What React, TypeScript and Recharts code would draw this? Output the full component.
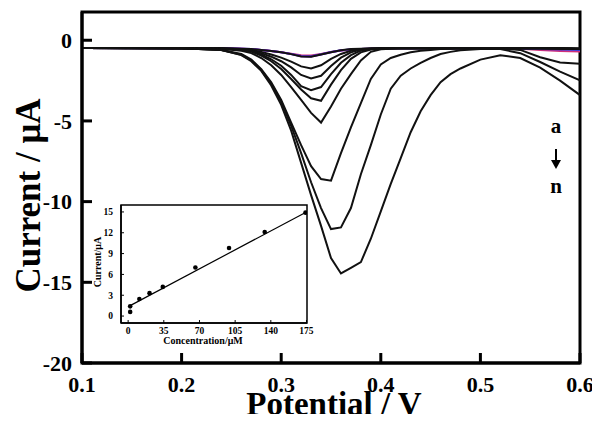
import React from 'react'
import {
  ComposedChart, Line, LineChart, ReferenceArea, Scatter, XAxis, YAxis,
} from 'recharts'

const serif = '"Liberation Serif", "Times New Roman", serif'

// potential (V) for every sampled point of the voltammograms
const potentials = [0.10, 0.20, 0.24, 0.26, 0.27, 0.28, 0.29, 0.30, 0.31, 0.32, 0.33, 0.34, 0.35, 0.36, 0.37, 0.38,
  0.39, 0.40, 0.41, 0.42, 0.43, 0.44, 0.45, 0.46, 0.47, 0.48, 0.50, 0.52, 0.54, 0.56, 0.58, 0.60]

const curveA = [-0.48, -0.5, -0.5, -0.52, -0.56, -0.61, -0.67, -0.75, -0.84, -0.93, -0.95, -0.85, -0.72, -0.63, -0.58, -0.54,
  -0.52, -0.5, -0.5, -0.5, -0.5, -0.5, -0.5, -0.5, -0.5, -0.5, -0.5, -0.5, -0.53, -0.6, -0.66, -0.7]
const curveB = [-0.48, -0.5, -0.5, -0.52, -0.55, -0.6, -0.66, -0.74, -0.85, -0.97, -0.99, -0.87, -0.73, -0.62, -0.57, -0.54,
  -0.52, -0.5, -0.5, -0.5, -0.5, -0.5, -0.5, -0.5, -0.5, -0.5, -0.5, -0.5, -0.52, -0.55, -0.58, -0.6]
const curveC = [-0.48, -0.5, -0.5, -0.52, -0.55, -0.6, -0.66, -0.75, -0.86, -0.99, -1.01, -0.88, -0.74, -0.63, -0.58, -0.55,
  -0.53, -0.51, -0.5, -0.5, -0.5, -0.5, -0.5, -0.5, -0.5, -0.5, -0.5, -0.5, -0.5, -0.52, -0.54, -0.55]
const curveD = [-0.48, -0.5, -0.5, -0.52, -0.55, -0.6, -0.66, -0.75, -0.86, -1.0, -1.02, -0.88, -0.74, -0.62, -0.55, -0.52,
  -0.5, -0.5, -0.5, -0.5, -0.5, -0.5, -0.5, -0.5, -0.5, -0.5, -0.5, -0.5, -0.5, -0.5, -0.51, -0.52]
const curveE = [-0.48, -0.5, -0.5, -0.55, -0.6, -0.72, -0.88, -1.08, -1.32, -1.62, -1.75, -1.55, -1.15, -0.85, -0.65, -0.55,
  -0.52, -0.5, -0.5, -0.5, -0.5, -0.5, -0.5, -0.5, -0.5, -0.5, -0.5, -0.5, -0.5, -0.5, -0.51, -0.52]
const curveF = [-0.48, -0.5, -0.51, -0.56, -0.63, -0.8, -1.02, -1.3, -1.68, -2.15, -2.37, -2.2, -1.6, -1.08, -0.75, -0.58,
  -0.52, -0.5, -0.5, -0.5, -0.5, -0.5, -0.5, -0.5, -0.5, -0.5, -0.5, -0.5, -0.5, -0.5, -0.5, -0.52]
const curveG = [-0.48, -0.5, -0.52, -0.58, -0.67, -0.88, -1.18, -1.58, -2.15, -2.85, -3.1, -2.9, -2.1, -1.4, -0.92, -0.64,
  -0.54, -0.51, -0.5, -0.5, -0.5, -0.5, -0.5, -0.5, -0.5, -0.5, -0.5, -0.5, -0.5, -0.5, -0.5, -0.52]
const curveH = [-0.48, -0.5, -0.52, -0.6, -0.7, -0.95, -1.3, -1.78, -2.4, -3.05, -3.6, -3.75, -2.75, -1.85, -1.15, -0.75,
  -0.58, -0.52, -0.5, -0.5, -0.5, -0.5, -0.5, -0.5, -0.5, -0.5, -0.5, -0.5, -0.5, -0.5, -0.5, -0.52]
const curveI = [-0.48, -0.5, -0.53, -0.65, -0.8, -1.1, -1.55, -2.15, -2.9, -3.7, -4.5, -5.1, -4.1, -3.0, -2.1, -1.25,
  -0.72, -0.56, -0.52, -0.5, -0.5, -0.5, -0.5, -0.5, -0.5, -0.5, -0.5, -0.5, -0.5, -0.5, -0.52, -0.55]
const curveJ = [-0.48, -0.5, -0.6, -0.85, -1.2, -1.8, -2.6, -3.7, -5.1, -6.5, -7.8, -8.6, -8.7, -7.0, -5.4, -3.9,
  -2.4, -1.5, -1.1, -0.9, -0.75, -0.65, -0.6, -0.55, -0.52, -0.5, -0.5, -0.5, -0.6, -1.05, -1.38, -1.45]
const curveK = [-0.48, -0.5, -0.6, -0.9, -1.25, -1.85, -2.7, -3.8, -5.3, -7.0, -8.8, -10.4, -11.7, -11.6, -10.4, -8.3,
  -6.5, -4.6, -3.0, -2.2, -1.75, -1.4, -1.1, -0.85, -0.72, -0.62, -0.55, -0.55, -0.8, -1.35, -1.95, -2.48]
const curveL = [-0.48, -0.5, -0.6, -0.92, -1.3, -1.9, -2.8, -4.0, -5.6, -7.6, -9.6, -11.5, -13.5, -14.45, -14.1, -13.75,
  -12.3, -10.6, -8.9, -7.3, -5.7, -4.4, -3.4, -2.6, -2.1, -1.75, -1.2, -0.93, -1.1, -1.7, -2.5, -3.4]

const curveKeys = ['a', 'b', 'c', 'd', 'e', 'f', 'g', 'h', 'i', 'j', 'k', 'l']
const curveValues = [curveA, curveB, curveC, curveD, curveE, curveF, curveG, curveH, curveI, curveJ, curveK, curveL]
const curveColors = ['#d0307a', '#3a3adb', '#8a2be2', '#111', '#111', '#111', '#111', '#111', '#111', '#111', '#111', '#111']

const xTicks = [0.1, 0.2, 0.3, 0.4, 0.5, 0.6]
const yTicks = [-20, -15, -10, -5, 0]

// inset: peak current vs concentration
const concentrations = [2, 2, 11, 21, 34, 66, 99, 134, 174]
const peakCurrents = [0.6, 1.4, 2.45, 3.3, 4.2, 7.0, 9.8, 12.1, 14.9]
const fitConcentrations = [2, 175]
const fitCurrents = [1.5, 15.0]
const insetXTicks = [0, 35, 70, 105, 140, 175]
const insetYTicks = [0, 3, 6, 9, 12, 15]

const rows = potentials.map((v, i) => {
  const row: Record<string, number> = { v }
  curveKeys.forEach((k, j) => { row[k] = curveValues[j][i] })
  return row
})
const insetPoints = concentrations.map((conc, i) => ({ conc, cur: peakCurrents[i] }))
const fitRows = fitConcentrations.map((conc, i) => ({ conc, cur: fitCurrents[i] }))

const bold = { fontFamily: serif, fontWeight: 'bold' as const, fill: '#000' }

function MainXTick({ x, y, payload }: any) {
  return (
    <g>
      <line x1={x} x2={x} y1={y - 10} y2={y - 20} stroke='#000' strokeWidth={3} />
      <text x={x} y={y + 19} textAnchor='middle' fontSize={22} {...bold}>{payload.value.toFixed(1)}</text>
    </g>
  )
}

function MainYTick({ x, y, payload }: any) {
  return (
    <g>
      <line x1={x + 10} x2={x + 20} y1={y} y2={y} stroke='#000' strokeWidth={3} />
      <text x={x} y={y} dy='0.35em' textAnchor='end' fontSize={22} {...bold}>{payload.value}</text>
    </g>
  )
}

function MainYTitle({ viewBox }: any) {
  const vb = viewBox || { x: 0, y: 12, width: 82, height: 351 }
  const cx = vb.x + 28
  const cy = vb.y + vb.height / 2 + 8
  return (
    <text x={cx} y={cy} dy='0.35em' textAnchor='middle' fontSize={35} {...bold}
      transform={`rotate(-90, ${cx}, ${cy})`}>Current / μA</text>
  )
}

// axis title placed just above the bottom edge of the picture
function MainXTitle() {
  return (
    <text x={334} y={415} textAnchor='middle' fontSize={33} {...bold}>
      Potential / V
    </text>
  )
}

function InsetXTick({ x, y, payload }: any) {
  return (
    <g>
      <line x1={x} x2={x} y1={y - 5} y2={y - 8} stroke='#000' strokeWidth={1} />
      <text x={x} y={y + 6} textAnchor='middle' fontSize={9.5} {...bold}>{payload.value}</text>
    </g>
  )
}

function InsetYTick({ x, y, payload }: any) {
  return (
    <g>
      <line x1={x + 8} x2={x + 11} y1={y} y2={y} stroke='#000' strokeWidth={1} />
      <text x={x} y={y} dy='0.35em' textAnchor='end' fontSize={9.5} {...bold}>{payload.value}</text>
    </g>
  )
}

function InsetYTitle({ viewBox }: any) {
  const vb = viewBox || { x: 0, y: 10, width: 36, height: 118 }
  const cx = vb.x + 12
  const cy = vb.y + vb.height / 2 - 2
  return (
    <text x={cx} y={cy} dy='0.35em' textAnchor='middle' fontSize={10} {...bold}
      transform={`rotate(-90, ${cx}, ${cy})`}>Current/μA</text>
  )
}

function InsetXTitle() {
  return (
    <text x={118} y={149} textAnchor='middle' fontSize={10} {...bold}>
      Concentration/μM
    </text>
  )
}

export default function App() {
  return (
    <div style={{ margin: '-8px', position: 'relative', width: 600, height: 422, background: '#fff', fontFamily: serif }}>
      <LineChart width={600} height={422} data={rows} margin={{ top: 12, right: 20, bottom: 0, left: 0 }}>
        <XAxis
          type='number' dataKey='v' domain={[0.1, 0.6]} ticks={xTicks} interval={0} allowDataOverflow height={59}
          axisLine={{ stroke: '#000', strokeWidth: 3 }} tickLine={false} tickSize={0} tickMargin={10}
          tick={(p: any) => <MainXTick {...p} />} label={<MainXTitle />}
        />
        <YAxis
          type='number' domain={[-20, 1.75]} ticks={yTicks} interval={0} allowDataOverflow width={82}
          axisLine={{ stroke: '#000', strokeWidth: 3 }} tickLine={false} tickSize={0} tickMargin={10}
          tick={(p: any) => <MainYTick {...p} />} label={<MainYTitle />}
        />
        {curveKeys.map((k, i) => (
          <Line key={k} type='linear' dataKey={k} stroke={curveColors[i]} strokeWidth={2}
            dot={false} activeDot={false} isAnimationActive={false} />
        ))}
        <ReferenceArea x1={0.1} x2={0.6} y1={-20} y2={1.75} fill='none' stroke='#000' strokeWidth={3} />
      </LineChart>

      <div style={{ position: 'absolute', left: 85, top: 195 }}>
        <ComposedChart width={240} height={155} margin={{ top: 10, right: 18, bottom: 0, left: 0 }}>
          <XAxis
            type='number' dataKey='conc' domain={[-7, 175.5]} ticks={insetXTicks} interval={0} allowDataOverflow height={27}
            axisLine={{ stroke: '#000', strokeWidth: 1.5 }} tickLine={false} tickSize={0} tickMargin={5}
            tick={(p: any) => <InsetXTick {...p} />} label={<InsetXTitle />}
          />
          <YAxis
            type='number' dataKey='cur' domain={[-1, 16]} ticks={insetYTicks} interval={0} allowDataOverflow width={36}
            axisLine={{ stroke: '#000', strokeWidth: 1.5 }} tickLine={false} tickSize={0} tickMargin={8}
            tick={(p: any) => <InsetYTick {...p} />} label={<InsetYTitle />}
          />
          <Line data={fitRows} type='linear' dataKey='cur' stroke='#000' strokeWidth={1.2}
            dot={false} activeDot={false} isAnimationActive={false} />
          <Scatter data={insetPoints} dataKey='cur' fill='#000' isAnimationActive={false}
            shape={(p: any) => <circle cx={p.cx} cy={p.cy} r={2.3} fill='#000' />} />
          <ReferenceArea x1={-7} x2={175.5} y1={-1} y2={16} fill='none' stroke='#000' strokeWidth={1.5} />
        </ComposedChart>
      </div>

      <div style={{ position: 'absolute', left: 546, top: 116, width: 20, textAlign: 'center', fontSize: 21, fontWeight: 'bold', lineHeight: '21px' }}>a</div>
      <svg style={{ position: 'absolute', left: 548, top: 147 }} width={16} height={24}>
        <line x1={8} x2={8} y1={2} y2={14} stroke='#000' strokeWidth={2} />
        <polygon points='3,13 13,13 8,22' fill='#000' />
      </svg>
      <div style={{ position: 'absolute', left: 546, top: 176, width: 20, textAlign: 'center', fontSize: 21, fontWeight: 'bold', lineHeight: '21px' }}>n</div>
    </div>
  )
}
